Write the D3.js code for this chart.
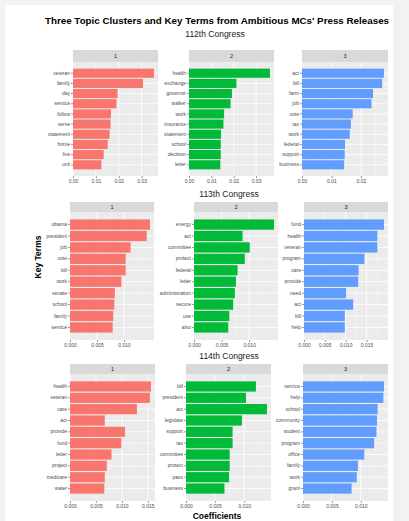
<!DOCTYPE html>
<html>
<head>
<meta charset="utf-8">
<script src="https://cdn.jsdelivr.net/npm/d3@7"></script>
<style>
  body { margin: 0; background: #f2f2f2; }
  svg { display: block; font-family: "Liberation Sans", Arial, sans-serif; }
</style>
</head>
<body>
<div id="chart"></div>
<script>
const chartTitle = "Three Topic Clusters and Key Terms from Ambitious MCs' Press Releases";
const congressTitles = ["112th Congress", "113th Congress", "114th Congress"];
const topicLabels = ["1", "2", "3"];

// key terms per topic, top term first
const terms112 = [
    ["veteran", "family", "day", "service", "follow", "serve", "statement", "home", "live", "unit"],
    ["health", "exchange", "governor", "walker", "work", "insurance", "statement", "school", "decision", "letter"],
    ["act", "bill", "farm", "job", "vote", "tax", "work", "federal", "support", "business"]
];
const coef112 = [
    [0.0354, 0.0306, 0.0195, 0.0190, 0.0166, 0.0164, 0.0160, 0.0152, 0.0134, 0.0124],
    [0.0362, 0.0212, 0.0192, 0.0186, 0.0157, 0.0154, 0.0143, 0.0142, 0.0142, 0.0140],
    [0.0278, 0.0272, 0.0241, 0.0236, 0.0172, 0.0166, 0.0162, 0.0146, 0.0145, 0.0143]
];
const terms113 = [
    ["obama", "president", "job", "vote", "bill", "work", "senate", "school", "family", "service"],
    ["energy", "act", "committee", "protect", "federal", "letter", "administration", "secure", "use", "also"],
    ["fund", "health", "veteran", "program", "care", "provide", "need", "act", "bill", "help"]
];
const coef113 = [
    [0.0148, 0.0142, 0.0112, 0.0103, 0.0103, 0.0095, 0.0083, 0.0082, 0.0080, 0.0079],
    [0.0145, 0.0088, 0.0101, 0.0092, 0.0079, 0.0076, 0.0074, 0.0071, 0.0064, 0.0062],
    [0.0192, 0.0176, 0.0176, 0.0145, 0.0131, 0.0130, 0.0101, 0.0118, 0.0098, 0.0098]
];
const terms114 = [
    ["health", "veteran", "care", "act", "provide", "fund", "letter", "project", "medicare", "water"],
    ["bill", "president", "act", "legislate", "support", "tax", "committee", "protect", "pass", "business"],
    ["service", "help", "school", "community", "student", "program", "office", "family", "work", "grant"]
];
const coef114 = [
    [0.0156, 0.0154, 0.0129, 0.0067, 0.0106, 0.0099, 0.0080, 0.0071, 0.0067, 0.0066],
    [0.0120, 0.0103, 0.0139, 0.0096, 0.0080, 0.0080, 0.0075, 0.0075, 0.0074, 0.0066],
    [0.0140, 0.0139, 0.0129, 0.0128, 0.0127, 0.0123, 0.0106, 0.0095, 0.0093, 0.0084]
];
const ticks112 = [[0, 0.01, 0.02, 0.03], [0, 0.01, 0.02, 0.03], [0, 0.01, 0.02]];
const ticks113 = [[0, 0.005, 0.010], [0, 0.005, 0.010], [0, 0.005, 0.010, 0.015]];
const ticks114 = [[0, 0.005, 0.010, 0.015], [0, 0.005, 0.010], [0, 0.005, 0.010]];
const topicColors = ["#F8766D", "#00BA38", "#619CFF"];

const rowsData = [
    { terms: terms112, coef: coef112, ticks: ticks112, fmt: ".2f" },
    { terms: terms113, coef: coef113, ticks: ticks113, fmt: ".3f" },
    { terms: terms114, coef: coef114, ticks: ticks114, fmt: ".3f" }
];

// layout of each row of facets
const rowLayout = [
    { titleY: 37, stripTop: 50, plotTop: 62, plotBottom: 176, xs: [[73, 158], [189, 274], [302, 388]], titleX: 215 },
    { titleY: 197, stripTop: 202, plotTop: 212, plotBottom: 340, xs: [[70, 154], [194, 278], [304, 388]], titleX: 229 },
    { titleY: 359, stripTop: 364, plotTop: 374, plotBottom: 501, xs: [[70, 155], [186, 271], [303, 388]], titleX: 229 }
];

const width = 409, height = 521;
const svg = d3.select('#chart').append('svg')
    .attr('width', width)
    .attr('height', height);

svg.append('rect')
    .attr('x', 5).attr('y', 5)
    .attr('width', 388).attr('height', 516)
    .attr('fill', '#fff');

svg.append('text')
    .attr('x', 217).attr('y', 24)
    .attr('text-anchor', 'middle')
    .style('font-size', '9.8px')
    .style('font-weight', 'bold')
    .style('fill', '#000')
    .text(chartTitle);

svg.append('text')
    .attr('transform', 'translate(41,257) rotate(-90)')
    .attr('text-anchor', 'middle')
    .style('font-size', '8.5px')
    .style('font-weight', 'bold')
    .text('Key Terms');

svg.append('text')
    .attr('x', 217).attr('y', 519)
    .attr('text-anchor', 'middle')
    .style('font-size', '8.5px')
    .style('font-weight', 'bold')
    .text('Coefficients');

rowsData.forEach((row, r) => {
    const lay = rowLayout[r];

    svg.append('text')
        .attr('x', lay.titleX).attr('y', lay.titleY)
        .attr('text-anchor', 'middle')
        .style('font-size', '8.5px')
        .style('fill', '#1a1a1a')
        .text(congressTitles[r]);

    row.terms.forEach((terms, p) => {
        const [x0, x1] = lay.xs[p];
        const values = row.coef[p];
        const data = terms.map((t, i) => ({ term: t, value: values[i] }));
        const maxVal = d3.max(values);

        const x = d3.scaleLinear()
            .domain([0, maxVal * 1.05])
            .range([x0, x1]);

        const y = d3.scaleBand()
            .domain(terms)
            .range([lay.plotTop, lay.plotBottom])
            .paddingInner(0.1)
            .paddingOuter(0.65);

        const g = svg.append('g');

        // strip
        g.append('rect')
            .attr('x', x0).attr('y', lay.stripTop)
            .attr('width', x1 - x0).attr('height', lay.plotTop - lay.stripTop)
            .attr('fill', '#d9d9d9');
        g.append('text')
            .attr('x', (x0 + x1) / 2)
            .attr('y', (lay.stripTop + lay.plotTop) / 2 + 2)
            .attr('text-anchor', 'middle')
            .style('font-size', '5.5px')
            .style('fill', '#1a1a1a')
            .text(topicLabels[p]);

        // panel background
        g.append('rect')
            .attr('x', x0).attr('y', lay.plotTop)
            .attr('width', x1 - x0).attr('height', lay.plotBottom - lay.plotTop)
            .attr('fill', '#ebebeb');

        const ticks = row.ticks[p];
        const step = ticks[1] - ticks[0];
        const minor = d3.range(step / 2, maxVal * 1.05, step);

        g.selectAll('.minor')
            .data(minor)
            .enter()
            .append('line')
            .attr('x1', d => x(d)).attr('x2', d => x(d))
            .attr('y1', lay.plotTop).attr('y2', lay.plotBottom)
            .attr('stroke', '#f7f7f7')
            .attr('stroke-width', 0.4);

        g.selectAll('.major')
            .data(ticks)
            .enter()
            .append('line')
            .attr('x1', d => x(d)).attr('x2', d => x(d))
            .attr('y1', lay.plotTop).attr('y2', lay.plotBottom)
            .attr('stroke', '#fff')
            .attr('stroke-width', 0.8);

        g.selectAll('.hgrid')
            .data(terms)
            .enter()
            .append('line')
            .attr('x1', x0).attr('x2', x1)
            .attr('y1', d => y(d) + y.bandwidth() / 2)
            .attr('y2', d => y(d) + y.bandwidth() / 2)
            .attr('stroke', '#fff')
            .attr('stroke-width', 0.8);

        g.selectAll('.bar')
            .data(data)
            .enter()
            .append('rect')
            .attr('x', x(0))
            .attr('y', d => y(d.term))
            .attr('width', d => x(d.value) - x(0))
            .attr('height', y.bandwidth())
            .attr('fill', topicColors[p]);

        // axes
        const yAxis = g.append('g')
            .attr('transform', `translate(${x0},0)`)
            .call(d3.axisLeft(y).tickSize(2).tickPadding(1));
        yAxis.select('.domain').remove();
        yAxis.selectAll('line').attr('stroke', '#333').attr('stroke-width', 0.5);
        yAxis.selectAll('text')
            .style('font-size', '5px')
            .style('fill', '#4d4d4d')
            .style('font-family', '"Liberation Sans", Arial, sans-serif');

        const xAxis = g.append('g')
            .attr('transform', `translate(0,${lay.plotBottom})`)
            .call(d3.axisBottom(x).tickValues(ticks).tickFormat(d3.format(row.fmt)).tickSize(2).tickPadding(1.5));
        xAxis.select('.domain').remove();
        xAxis.selectAll('line').attr('stroke', '#333').attr('stroke-width', 0.5);
        xAxis.selectAll('text')
            .style('font-size', '5px')
            .style('fill', '#4d4d4d')
            .style('font-family', '"Liberation Sans", Arial, sans-serif');
    });
});
</script>
</body>
</html>
